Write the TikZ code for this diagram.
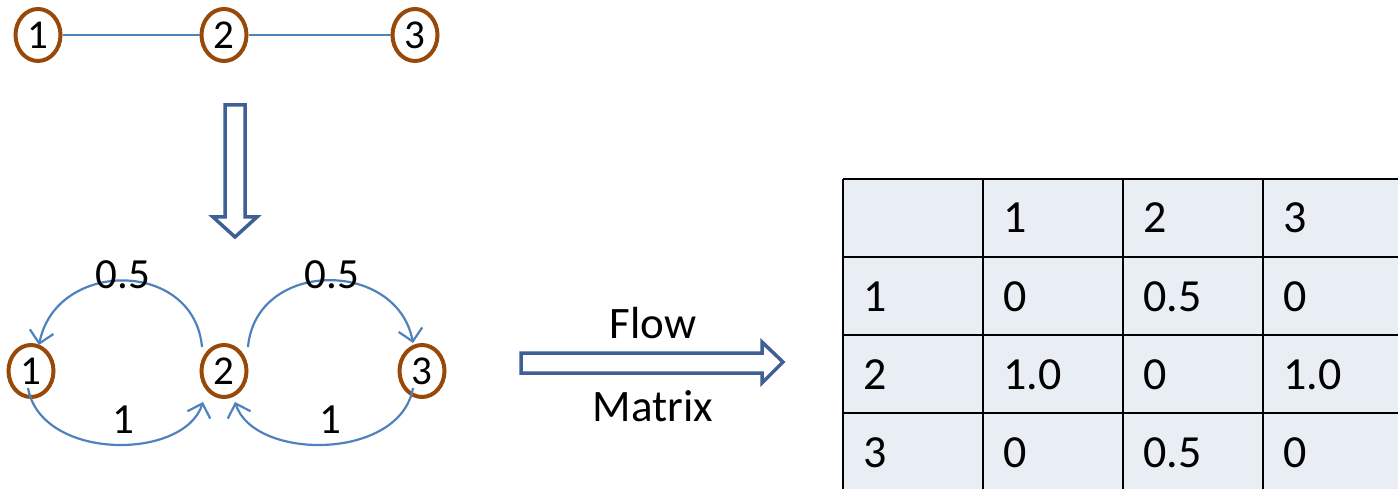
\documentclass[tikz,border=0pt]{standalone}
\usepackage{fontspec}
\setmainfont{Carlito}
\usetikzlibrary{shapes.geometric,arrows.meta,calc}
\definecolor{nodebrown}{RGB}{152,72,7}
\definecolor{edgeblue}{RGB}{79,129,189}
\definecolor{blockblue}{RGB}{62,96,148}
\definecolor{cellfill}{RGB}{233,237,244}
\begin{document}
\begin{tikzpicture}[x=1pt,y=-1pt,
  gnode/.style={ellipse,draw=nodebrown,line width=4pt,minimum width=45pt,minimum height=52pt,inner sep=0pt,font=\fontsize{41}{46}\selectfont},
  edge/.style={draw=edgeblue,line width=2.2pt},
  flowedge/.style={edge,-{Straight Barb[length=12pt,width=24pt,line width=2.2pt]}},
  wlabel/.style={inner sep=0pt,font=\fontsize{43}{48}\selectfont},
  mlabel/.style={inner sep=0pt,font=\fontsize{45}{50}\selectfont},
  blockarrow/.style={draw=blockblue,line width=3.5pt,fill=white,line join=miter},
  cell/.style={anchor=base west,inner sep=0pt,font=\fontsize{46}{52}\selectfont},
  grid/.style={draw=black,line width=2.5pt}]
\useasboundingbox (0,0) rectangle (1398,489);

% undirected graph
\node[gnode] (t1) at (38,35) {1};
\node[gnode] (t2) at (224,35) {2};
\node[gnode] (t3) at (415,35) {3};
\draw[edge] (t1) -- (t2);
\draw[edge] (t2) -- (t3);

% transformation arrow
\draw[blockarrow] (225,105) -- (245,105) -- (245,217) -- (257,217) -- (235,237)
  -- (213,217) -- (225,217) -- cycle;

% flow graph
\node[gnode] (b1) at (31,371) {1};
\node[gnode] (b2) at (224,371) {2};
\node[gnode] (b3) at (422,371) {3};
\draw[flowedge] ($(b2)+(-22,-24)$) .. controls ($(b2)+(-30,-112)$) and ($(b1)+(25,-112)$) .. ($(b1)+(8,-26)$);
\draw[flowedge] ($(b2)+(24,-24)$) .. controls ($(b2)+(32,-112)$) and ($(b3)+(-25,-112)$) .. ($(b3)+(-9,-28)$);
\draw[flowedge] ($(b1)+(-3,17)$) .. controls ($(b1)+(10,90)$) and ($(b2)+(-40,90)$) .. ($(b2)+(-21,31)$);
\draw[flowedge] ($(b3)+(-9,17)$) .. controls ($(b3)+(-22,90)$) and ($(b2)+(30,90)$) .. ($(b2)+(11,31)$);
\node[wlabel] (w12) at (123,275) {0.5};
\node[wlabel] (w23) at (332,275) {0.5};
\node[wlabel] (w21) at (123,420) {1};
\node[wlabel] (w32) at (330,420) {1};

% flow matrix arrow
\draw[blockarrow] (521,353) -- (762,353) -- (762,342) -- (783,362) -- (762,383)
  -- (762,373) -- (521,373) -- cycle;
\node[mlabel] (flow) at (653,323) {Flow};
\node[mlabel] (matrix) at (653,406) {Matrix};

% matrix table
\fill[cellfill] (843,179) rectangle (1410,500);
\foreach \x in {843,983,1123,1263} \draw[grid] (\x,179) -- (\x,500);
\foreach \y in {179,257,335,413} \draw[grid] (843,\y) -- (1410,\y);
\node[cell] (h1) at (1003,233) {1};
\node[cell] (h2) at (1143,233) {2};
\node[cell] (h3) at (1283,233) {3};
\node[cell] (r1) at (863,311) {1};
\node[cell] (c11) at (1003,311) {0};
\node[cell] (c12) at (1143,311) {0.5};
\node[cell] (c13) at (1283,311) {0};
\node[cell] (r2) at (863,389) {2};
\node[cell] (c21) at (1003,389) {1.0};
\node[cell] (c22) at (1143,389) {0};
\node[cell] (c23) at (1283,389) {1.0};
\node[cell] (r3) at (863,467) {3};
\node[cell] (c31) at (1003,467) {0};
\node[cell] (c32) at (1143,467) {0.5};
\node[cell] (c33) at (1283,467) {0};
\end{tikzpicture}
\end{document}
